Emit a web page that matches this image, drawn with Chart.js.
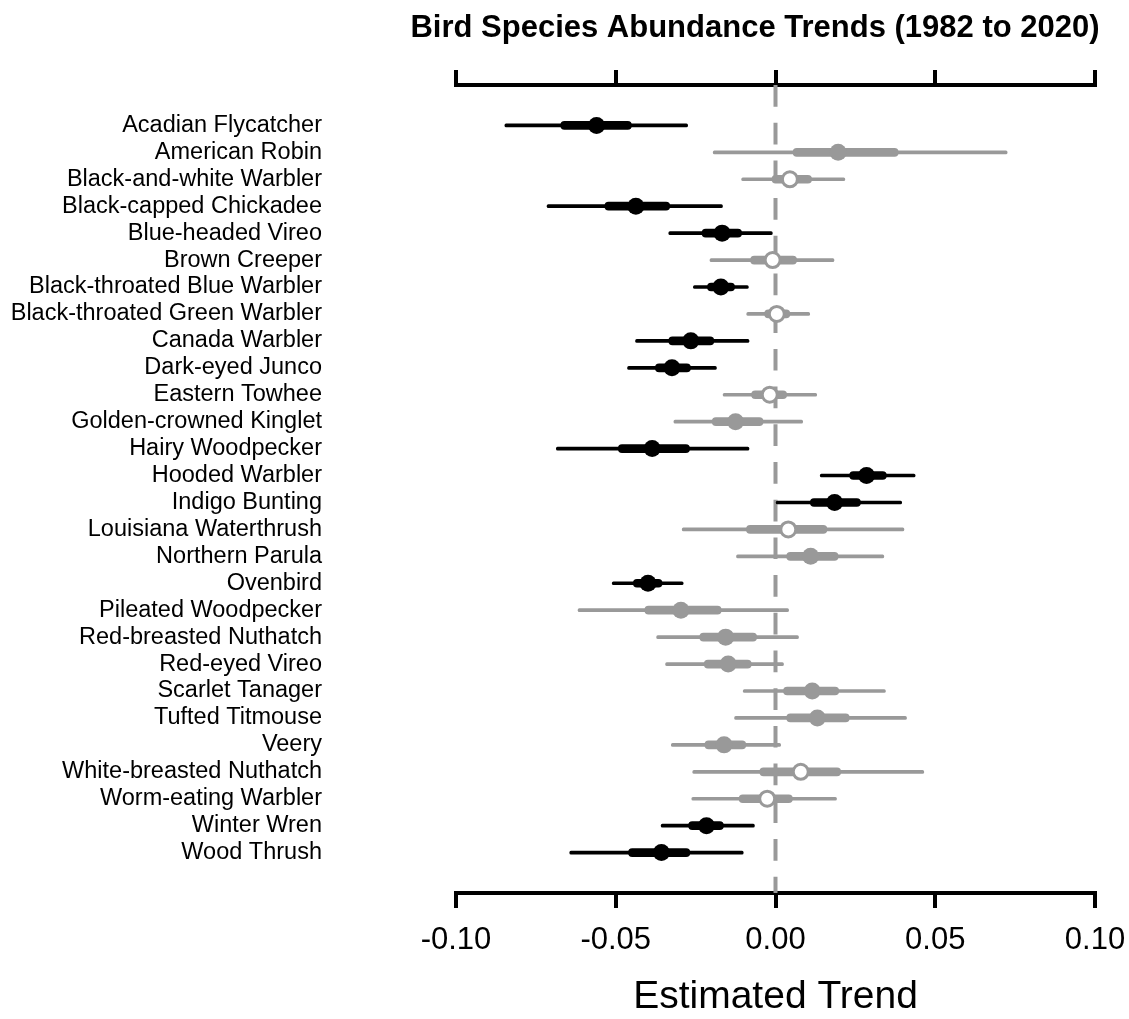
<!DOCTYPE html>
<html>
<head>
<meta charset="utf-8">
<title>Bird Species Abundance Trends</title>
<script src="https://cdn.jsdelivr.net/npm/chart.js@4.4.1/dist/chart.umd.min.js"></script>
<style>
  html, body { margin: 0; padding: 0; background: #fff; }
  #wrap { width: 1129px; height: 1019px; position: relative; }
</style>
</head>
<body>
<div id="wrap"><canvas id="trendChart"></canvas></div>
<script>
const species = [
  "Acadian Flycatcher", "American Robin", "Black-and-white Warbler", "Black-capped Chickadee",
  "Blue-headed Vireo", "Brown Creeper", "Black-throated Blue Warbler", "Black-throated Green Warbler",
  "Canada Warbler", "Dark-eyed Junco", "Eastern Towhee", "Golden-crowned Kinglet",
  "Hairy Woodpecker", "Hooded Warbler", "Indigo Bunting", "Louisiana Waterthrush",
  "Northern Parula", "Ovenbird", "Pileated Woodpecker", "Red-breasted Nuthatch",
  "Red-eyed Vireo", "Scarlet Tanager", "Tufted Titmouse", "Veery",
  "White-breasted Nuthatch", "Worm-eating Warbler", "Winter Wren", "Wood Thrush"
];
const estimate = [
  -0.0560, 0.0196, 0.0045, -0.0437, -0.0167, -0.0009, -0.0171, 0.0004,
  -0.0265, -0.0324, -0.0018, -0.0125, -0.0386, 0.0285, 0.0185, 0.0040,
  0.0110, -0.0399, -0.0296, -0.0156, -0.0148, 0.0115, 0.0131, -0.0161,
  0.0079, -0.0026, -0.0216, -0.0357
];
// wide interval (thin line)
const outerLow = [
  -0.0847, -0.0195, -0.0106, -0.0715, -0.0334, -0.0205, -0.0257, -0.0090,
  -0.0438, -0.0463, -0.0164, -0.0318, -0.0686, 0.0140, 0.0002, -0.0292,
  -0.0122, -0.0511, -0.0618, -0.0372, -0.0344, -0.0101, -0.0128, -0.0326,
  -0.0259, -0.0262, -0.0358, -0.0644
];
const outerHigh = [
  -0.0275, 0.0725, 0.0217, -0.0166, -0.0010, 0.0183, -0.0085, 0.0107,
  -0.0083, -0.0185, 0.0129, 0.0085, -0.0083, 0.0437, 0.0395, 0.0402,
  0.0339, -0.0289, 0.0041, 0.0072, 0.0025, 0.0344, 0.0410, 0.0016,
  0.0464, 0.0191, -0.0066, -0.0101
];
// narrow interval (thick line)
const innerLow = [
  -0.0672, 0.0055, -0.0011, -0.0534, -0.0230, -0.0078, -0.0213, -0.0034,
  -0.0334, -0.0376, -0.0075, -0.0198, -0.0492, 0.0232, 0.0109, -0.0091,
  0.0035, -0.0445, -0.0409, -0.0237, -0.0223, 0.0025, 0.0035, -0.0221,
  -0.0049, -0.0114, -0.0272, -0.0460
];
const innerHigh = [
  -0.0451, 0.0384, 0.0113, -0.0331, -0.0106, 0.0066, -0.0128, 0.0045,
  -0.0193, -0.0266, 0.0035, -0.0039, -0.0269, 0.0347, 0.0266, 0.0161,
  0.0196, -0.0355, -0.0170, -0.0059, -0.0076, 0.0198, 0.0231, -0.0093,
  0.0204, 0.0053, -0.0163, -0.0268
];
// sig = black dot, ns = grey dot, zero = grey open circle
const markerType = [
  "sig", "ns", "zero", "sig", "sig", "zero", "sig", "zero",
  "sig", "sig", "zero", "ns", "sig", "sig", "sig", "zero",
  "ns", "sig", "ns", "ns", "ns", "ns", "ns", "ns",
  "zero", "zero", "sig", "sig"
];
const xTicks = [-0.10, -0.05, 0.00, 0.05, 0.10];

const fontFamily = "'Liberation Sans', Arial, Helvetica, sans-serif";
const ink = markerType.map(t => t === "sig" ? "#000000" : "#999999");

const outerBars = species.map((s, i) => ({ y: i + 1, x: [outerLow[i], outerHigh[i]] }));
const innerBars = species.map((s, i) => ({ y: i + 1, x: [innerLow[i], innerHigh[i]] }));
const points = species.map((s, i) => ({ y: i + 1, x: estimate[i] }));

// dashed reference line at zero, under the marks
const zeroLine = {
  id: "zeroLine",
  beforeDatasetsDraw(chart) {
    const { ctx, chartArea, scales } = chart;
    const x = scales.x.getPixelForValue(0);
    ctx.save();
    ctx.strokeStyle = "#999999";
    ctx.lineWidth = 4;
    ctx.setLineDash([21.7, 16]);
    ctx.beginPath();
    ctx.moveTo(x, chartArea.top);
    ctx.lineTo(x, chartArea.bottom);
    ctx.stroke();
    ctx.restore();
  }
};

const plotTitle = {
  id: "plotTitle",
  afterDraw(chart) {
    const ctx = chart.ctx;
    ctx.save();
    ctx.font = "bold 31px " + fontFamily;
    ctx.fillStyle = "#000";
    ctx.textAlign = "center";
    ctx.textBaseline = "middle";
    ctx.fillText("Bird Species Abundance Trends (1982 to 2020)", 755, 28);
    ctx.restore();
  }
};

const axisGrid = { drawOnChartArea: false, drawTicks: true, tickLength: 15, lineWidth: 4, color: "#000" };
const axisBorder = { display: true, width: 4, color: "#000" };

new Chart(document.getElementById("trendChart"), {
  type: "bar",
  data: {
    datasets: [
      {
        type: "scatter",
        label: "Estimate",
        data: points,
        order: 1,
        pointRadius: markerType.map(t => t === "zero" ? 7.5 : 8.5),
        pointHoverRadius: markerType.map(t => t === "zero" ? 7.5 : 8.5),
        pointBackgroundColor: markerType.map(t => t === "sig" ? "#000000" : (t === "ns" ? "#999999" : "#ffffff")),
        pointBorderColor: ink,
        pointBorderWidth: markerType.map(t => t === "zero" ? 3 : 0)
      },
      {
        label: "Inner",
        data: innerBars,
        order: 2,
        backgroundColor: ink,
        barThickness: 8,
        borderRadius: 4,
        borderSkipped: false,
        grouped: false
      },
      {
        label: "Outer",
        data: outerBars,
        order: 3,
        backgroundColor: ink,
        barThickness: 3,
        borderRadius: 1.5,
        borderSkipped: false,
        grouped: false
      }
    ]
  },
  options: {
    indexAxis: "y",
    responsive: true,
    maintainAspectRatio: false,
    animation: false,
    layout: { padding: { top: 70, right: 34, bottom: 0, left: 0 } },
    plugins: {
      legend: { display: false },
      tooltip: { enabled: false },
      title: { display: false }
    },
    scales: {
      x: {
        type: "linear",
        position: "bottom",
        min: -0.1,
        max: 0.1,
        offset: false,
        afterBuildTicks: axis => { axis.ticks = xTicks.map(v => ({ value: v })); },
        afterFit: axis => {
          axis.height = 126;
          axis.paddingLeft = 0;
          axis.paddingRight = 0;
        },
        grid: axisGrid,
        border: axisBorder,
        ticks: {
          padding: 14,
          color: "#000",
          maxRotation: 0,
          autoSkip: false,
          font: { family: fontFamily, size: 31 },
          callback: v => v.toFixed(2)
        },
        title: {
          display: true,
          text: "Estimated Trend",
          color: "#000",
          font: { family: fontFamily, size: 39, lineHeight: 1.1 },
          padding: { top: 0, bottom: 0 }
        }
      },
      xTop: {
        type: "linear",
        position: "top",
        min: -0.1,
        max: 0.1,
        offset: false,
        afterBuildTicks: axis => { axis.ticks = xTicks.map(v => ({ value: v })); },
        afterFit: axis => { axis.height = 15; },
        grid: axisGrid,
        border: axisBorder,
        ticks: { display: false }
      },
      y: {
        type: "linear",
        position: "left",
        reverse: true,
        min: -0.5,
        max: 29.5,
        offset: false,
        afterBuildTicks: axis => { axis.ticks = species.map((s, i) => ({ value: i + 1 })); },
        afterFit: axis => {
          axis.width = 456;
          axis.paddingTop = 0;
          axis.paddingBottom = 0;
        },
        grid: { display: false, drawTicks: false, tickLength: 0 },
        border: { display: false },
        ticks: {
          autoSkip: false,
          padding: 134,
          color: "#000",
          font: { family: fontFamily, size: 23.5, lineHeight: 1 },
          callback: v => species[v - 1]
        }
      }
    }
  },
  plugins: [zeroLine, plotTitle]
});
</script>
</body>
</html>
